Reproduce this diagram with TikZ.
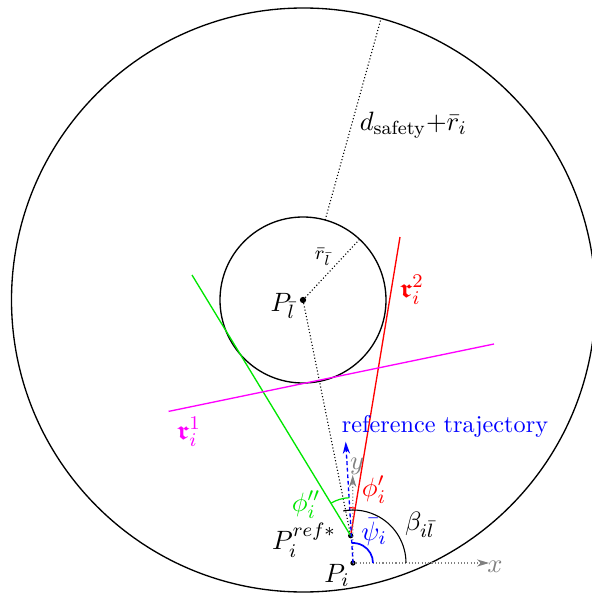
\documentclass[tikz,border=0pt]{standalone}
\usepackage{amsmath,amssymb}
\usetikzlibrary{arrows.meta,calc}
\definecolor{mag}{RGB}{255,0,255}
\definecolor{grn}{RGB}{0,230,0}
\begin{document}
\begin{tikzpicture}[x=0.413pt,y=0.413pt,
  dotpt/.style={circle,fill=black,inner sep=0pt,minimum size=2.2pt},
  thin line/.style={line width=0.55pt},
  dotline/.style={line width=0.45pt,dash pattern=on 0.45pt off 0.9pt},
  axisarrow/.style={gray,line width=0.45pt,dash pattern=on 0.45pt off 0.9pt,-{Stealth[length=5pt,width=3pt]}},
  lbl/.style={inner sep=1pt,font=\fontsize{11.2}{13}\selectfont}]
\useasboundingbox (0,0) rectangle (592,597);
% centres and points
\coordinate (O) at (303.5,297);
\node[dotpt,minimum size=2.6pt] (Pl) at (303,297) {};
\node[dotpt] (Pi) at (353,34) {};
\node[dotpt] (Pr) at (350.7,61.3) {};
% circles
\draw[thin line] (O) circle[radius=292];
\draw[thin line] (Pl) circle[radius=83];
% line ends
\coordinate (redend) at (400,360);
\coordinate (greenend) at (192,322);
\coordinate (magA) at (168.6,185.6);
\coordinate (magB) at (494,253);
\coordinate (blueend) at (345.7,155.3);
\coordinate (yend) at (352.7,122);
\coordinate (xend) at (489,34);
\coordinate (rlend) at ($(Pl)+(47:83.5)$);
\coordinate (dsA) at ($(Pl)+(74.5:83)$);
\coordinate (dsB) at ($(Pl)+(74.5:292)$);
% dotted helper lines
\draw[dotline] (Pl.center) -- (rlend);
\draw[dotline] (dsA) -- (dsB);
\draw[dotline] (Pl.center) -- (Pr.center);
% coloured lines
\draw[thin line,red] (Pr.center) -- (redend);
\draw[thin line,grn] (Pr.center) -- (greenend);
\draw[thin line,mag] (magA) -- (magB);
% axes
\draw[axisarrow] (Pi.center) -- (xend);
\draw[axisarrow] (Pi.center) -- (yend);
\draw[blue,line width=0.55pt,dash pattern=on 1.6pt off 1.1pt,-{Stealth[length=5pt,width=3pt]}] (Pi.center) -- (blueend);
% arcs
\draw[line width=0.45pt] ($(Pi.center)+(0:53)$) arc[start angle=0,end angle=100.7,radius=53];
\draw[blue,line width=0.7pt] ($(Pi.center)+(0:20)$) arc[start angle=0,end angle=93,radius=20];
\draw[grn,line width=0.5pt] ($(Pr.center)+(92:38)$) arc[start angle=92,end angle=121,radius=38];
\draw[red,line width=0.5pt] ($(Pr.center)+(81:28)$) arc[start angle=81,end angle=92,radius=28];
% labels
\node[lbl,anchor=west] (ds) at (357,472) {$d_{\text{safety}}{+}\bar{r}_i$};
\node[inner sep=1pt] (rl) at (323,340) {\footnotesize$\bar{r}_{\bar{l}}$};
\node[lbl] (lPl) at (283,291) {$P_{\bar{l}}$};
\node[lbl] (lPr) at (304,57) {$P_i^{ref*}$};
\node[lbl] (lPi) at (337,22) {$P_i$};
\node[lbl] (lbeta) at (420,72) {$\beta_{i\bar{l}}$};
\node[lbl,blue] (lpsi) at (374,65) {$\bar{\psi}_i$};
\node[lbl,grn] (lphi2) at (306,92) {$\phi_i''$};
\node[lbl,red] (lphi1) at (374,107) {$\phi_i'$};
\node[inner sep=1pt,blue] (lref) at (445,171) {reference trajectory};
\node[lbl,mag] (lr1) at (189,165) {$\boldsymbol{\mathfrak{r}}_i^1$};
\node[lbl,red] (lr2) at (412,307) {$\boldsymbol{\mathfrak{r}}_i^2$};
\node[lbl,gray] (lx) at (495,30) {$x$};
\node[lbl,gray] (ly) at (357,131) {$y$};
\end{tikzpicture}
\end{document}
